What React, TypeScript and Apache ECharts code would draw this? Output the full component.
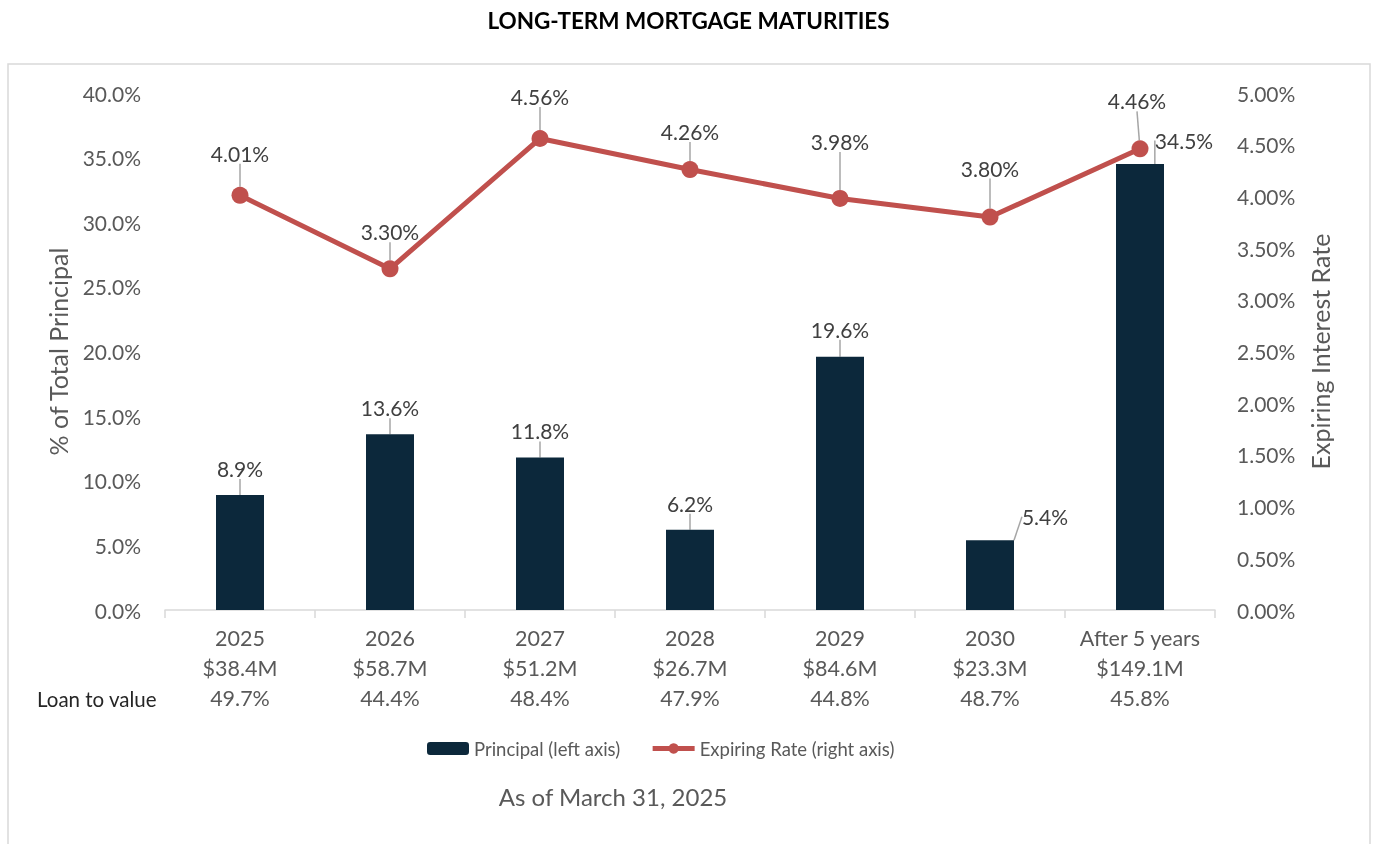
import React, { useEffect, useRef } from "react";
import * as echarts from "echarts";

const years = ["2025", "2026", "2027", "2028", "2029", "2030", "After 5 years"];
const principalAmounts = ["$38.4M", "$58.7M", "$51.2M", "$26.7M", "$84.6M", "$23.3M", "$149.1M"];
const loanToValue = ["49.7%", "44.4%", "48.4%", "47.9%", "44.8%", "48.7%", "45.8%"];
const principalPct = [8.9, 13.6, 11.8, 6.2, 19.6, 5.4, 34.5];
const expiringRate = [4.01, 3.3, 4.56, 4.26, 3.98, 3.8, 4.46];
const leftTicks = { min: 0, max: 40, interval: 5 };
const rightTicks = { min: 0, max: 5, interval: 0.5 };

// label displacement (style only)
const barLabelShift = [[0, -11], [0, -11], [0, -11], [0, -11], [0, -12], [55, -8], [44, -8]];
const lineLabelShift = [[0, -18], [0, -13], [0, -18], [0, -14], [0, -33], [0, -25], [-3, -24]];

const FONT = "Lato, 'Noto Sans', sans-serif";
const GRAY = "#595959";

export default function App() {
  const ref = useRef<HTMLDivElement>(null);
  useEffect(() => {
    if (!ref.current) return;
    const chart = echarts.init(ref.current, null, { renderer: "svg" });
    const categories = years.map((y, i) => `${y}\n${principalAmounts[i]}\n${loanToValue[i]}`);
    chart.setOption({
      animation: false,
      textStyle: { fontFamily: FONT },
      title: {
        text: "LONG-TERM MORTGAGE MATURITIES",
        left: "center",
        top: 4,
        textStyle: { fontFamily: FONT, fontSize: 22.5, fontWeight: "bold", color: "#000" },
      },
      graphic: [
        {
          type: "rect",
          shape: { x: 8, y: 64, width: 1362, height: 820 },
          style: { fill: "none", stroke: "#d9d9d9", lineWidth: 1.5 },
          silent: true,
          z: -1,
        },
        {
          type: "text",
          left: 37,
          top: 688,
          style: { text: "Loan to value", fontFamily: FONT, fontSize: 20.5, fill: "#262626" },
        },
        {
          type: "text",
          x: 613,
          y: 796,
          style: {
            text: "As of March 31, 2025",
            fontFamily: FONT,
            fontSize: 24,
            fill: GRAY,
            align: "center",
            verticalAlign: "middle",
          },
        },
      ],
      legend: {
        bottom: 81,
        left: 422,
        itemWidth: 42,
        itemHeight: 13,
        itemGap: 30,
        textStyle: { fontFamily: FONT, fontSize: 18.5, color: GRAY },
        data: [
          { name: "Principal (left axis)" },
          {
            name: "Expiring Rate (right axis)",
            lineStyle: { width: 5, color: "#c0504d" },
            itemStyle: { color: "#c0504d" },
          },
        ],
      },
      grid: { left: 165, right: 162, top: 93, bottom: 234 },
      xAxis: {
        type: "category",
        data: categories,
        axisLine: { lineStyle: { color: "#d9d9d9", width: 1.5 } },
        axisTick: { show: true, length: 8, lineStyle: { color: "#d9d9d9", width: 1.5 } },
        axisLabel: {
          color: GRAY,
          fontFamily: FONT,
          fontSize: 21.5,
          lineHeight: 30,
          margin: 13,
          interval: 0,
        },
      },
      yAxis: [
        {
          type: "value",
          ...leftTicks,
          name: "% of Total Principal",
          nameLocation: "middle",
          nameRotate: 90,
          nameGap: 95,
          nameTextStyle: { fontFamily: FONT, fontSize: 25, color: GRAY },
          splitLine: { show: false },
          axisLine: { show: false },
          axisTick: { show: false },
          axisLabel: {
            color: GRAY,
            fontFamily: FONT,
            fontSize: 21,
            margin: 24,
            formatter: (v: number) => v.toFixed(1) + "%",
          },
        },
        {
          type: "value",
          ...rightTicks,
          name: "Expiring Interest Rate",
          nameLocation: "middle",
          nameRotate: 90,
          nameGap: 92,
          nameTextStyle: { fontFamily: FONT, fontSize: 25, color: GRAY },
          splitLine: { show: false },
          axisLine: { show: false },
          axisTick: { show: false },
          axisLabel: {
            color: GRAY,
            fontFamily: FONT,
            fontSize: 21,
            margin: 22,
            formatter: (v: number) => v.toFixed(2) + "%",
          },
        },
      ],
      series: [
        {
          name: "Principal (left axis)",
          type: "bar",
          yAxisIndex: 0,
          data: principalPct,
          barWidth: 48,
          itemStyle: { color: "#0c283b" },
          label: {
            show: true,
            position: "top",
            distance: 5,
            color: "#404040",
            fontFamily: FONT,
            fontSize: 21,
            formatter: (p: any) => p.value.toFixed(1) + "%",
          },
          labelLayout: (p: any) => ({ dx: barLabelShift[p.dataIndex][0], dy: barLabelShift[p.dataIndex][1] }),
          labelLine: { show: true, lineStyle: { color: "#a6a6a6", width: 1.5 } },
        },
        {
          name: "Expiring Rate (right axis)",
          type: "line",
          yAxisIndex: 1,
          data: expiringRate,
          symbol: "circle",
          symbolSize: 17,
          lineStyle: { color: "#c0504d", width: 5 },
          itemStyle: { color: "#c0504d" },
          label: {
            show: true,
            position: "top",
            distance: 5,
            color: "#404040",
            fontFamily: FONT,
            fontSize: 21,
            formatter: (p: any) => p.value.toFixed(2) + "%",
          },
          labelLayout: (p: any) => ({ dx: lineLabelShift[p.dataIndex][0], dy: lineLabelShift[p.dataIndex][1] }),
          labelLine: { show: true, lineStyle: { color: "#a6a6a6", width: 1.5 } },
        },
      ],
    });
    return () => chart.dispose();
  }, []);
  return <div ref={ref} style={{ position: "fixed", left: 0, top: 0, width: 1377, height: 844 }} />;
}
